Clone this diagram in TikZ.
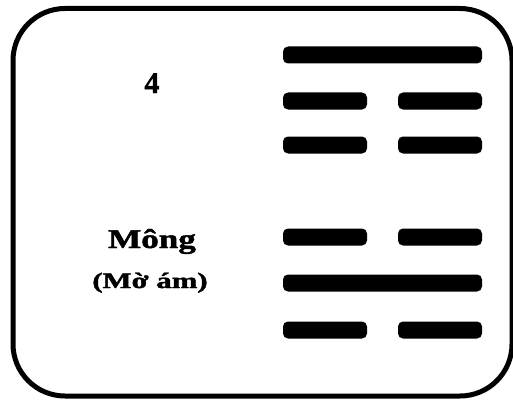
\documentclass[tikz,border=0pt]{standalone}
\usepackage{fontspec}
\setmainfont{Liberation Serif}
\newfontfamily\heavy[FakeBold=1.5]{Liberation Serif Bold}
\tikzset{
  frame/.style={line width=5pt, rounded corners=52pt},
  bar/.style={fill=black, rounded corners=5pt},
  lbl/.style={inner sep=0pt, anchor=base}
}
\begin{document}
\begin{tikzpicture}[x=1pt,y=-1pt]
\useasboundingbox (0,0) rectangle (513,401);
\draw[frame] (13,8.5) rectangle (512,396);
% hexagram bars (top to bottom)
\foreach \y in {55,283} {
  \fill[bar] (283,\y-8.5) rectangle (482,\y+8.5);
}
\foreach \y in {101,145,237,330} {
  \fill[bar] (283,\y-8.5) rectangle (367,\y+8.5);
  \fill[bar] (398,\y-8.5) rectangle (482,\y+8.5);
}
\node[lbl, font=\heavy\fontsize{30}{30}\selectfont] (num) at (152,93) {4};
\node[lbl, font=\heavy\fontsize{27}{27}\selectfont, xscale=1.3] (name) at (152,248) {Mông};
\node[lbl, font=\heavy\fontsize{22}{22}\selectfont, xscale=1.4] (mean) at (150,288) {(Mờ ám)};
\end{tikzpicture}
\end{document}
